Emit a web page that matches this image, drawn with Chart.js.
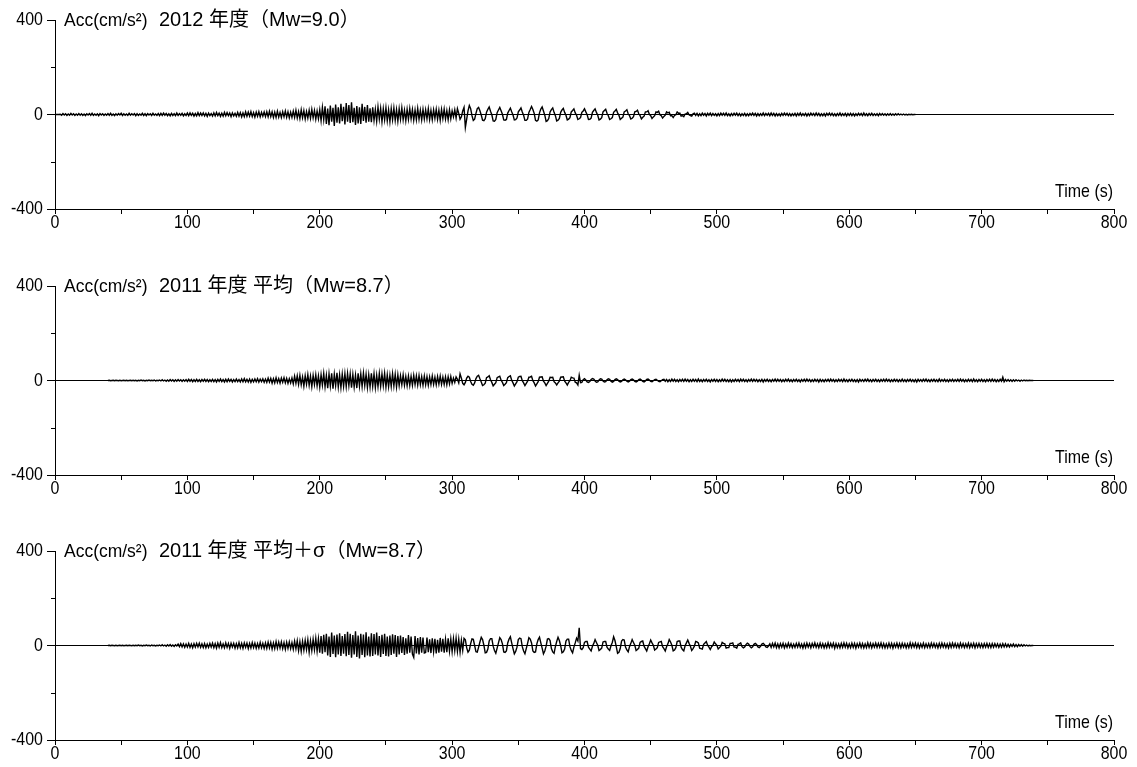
<!DOCTYPE html>
<html>
<head>
<meta charset="utf-8">
<script src="https://cdn.jsdelivr.net/npm/chart.js@4/dist/chart.umd.min.js"></script>
<style>
  body { margin: 0; background: #fff; }
  .panel { position: absolute; left: 0; width: 1137px; height: 240px; }
</style>
</head>
<body>
<div class="panel" style="top:0px"><canvas id="wave1" width="1137" height="240"></canvas></div>
<div class="panel" style="top:266px"><canvas id="wave2" width="1137" height="240"></canvas></div>
<div class="panel" style="top:531px"><canvas id="wave3" width="1137" height="240"></canvas></div>
<script>
// sampling step (s) and start time of each record
const dt = 1;
const titles = ['2012 年度（Mw=9.0）', '2011 年度 平均（Mw=8.7）', '2011 年度 平均＋σ（Mw=8.7）'];
const startTimes = [0, 40, 40];
const yTicks = [-400, 0, 400];
const yMinorTicks = [-200, 200];
const xTickLabels = [0, 100, 200, 300, 400, 500, 600, 700, 800];

// 2012 Mw9.0 acceleration (cm/s2), t = 0..650 s
const acc2012 = [
  0,0,0,0,1,-3,4,-2,3,-4,2,-3,5,-2,3,-4,2,-3,4,-3,
  3,-4,2,-5,3,-2,4,-3,5,-4,2,-3,3,-5,4,-2,3,-4,2,-3,
  4,-3,5,-4,2,-5,3,-3,4,-2,5,-4,3,-3,2,-4,5,-3,3,-2,
  4,-5,3,-4,2,-3,5,-4,3,-5,4,-2,3,-4,5,-3,2,-4,4,-5,
  5,-4,6,-3,4,-5,3,-6,5,-4,3,-5,6,-4,4,-3,5,-6,3,-4,
  6,-5,7,-4,5,-7,4,-6,8,-5,6,-4,7,-6,5,-8,6,-5,4,-7,
  7,-6,9,-5,6,-8,5,-7,9,-6,8,-5,6,-9,7,-6,5,-8,9,-7,
  8,-10,7,-9,11,-8,10,-7,12,-9,8,-11,10,-8,12,-10,9,-7,11,-9,
  12,-10,14,-9,11,-13,10,-12,14,-11,9,-13,12,-10,15,-12,11,-14,10,-12,
  14,-12,18,-15,12,-17,20,-14,16,-19,13,-15,18,-16,22,-14,17,-20,15,-18,
  20,-26,30,-22,35,-40,25,-45,38,-30,28,-48,42,-35,30,-38,45,-28,33,-42,
  48,-30,40,-36,52,-33,28,-44,36,-38,30,-40,45,-27,32,-35,40,-30,26,-33,
  30,-25,22,-28,32,-20,26,-30,24,-22,28,-26,20,-30,25,-22,27,-24,21,-28,
  24,-20,28,-22,18,-26,22,-20,25,-18,21,-24,19,-22,26,-20,18,-23,22,-19,
  20,-18,24,-21,17,-22,20,-16,22,-20,18,-24,21,-17,23,-19,16,-22,20,-18,
  15,-10,20,-15,25,5,-20,-10,15,30,-55,-20,15,38,25,-5,-25,-20,5,25,
  30,16,-2,-24,-26,-18,10,22,32,14,-1,-27,-28,-21,8,19,30,16,1,-23,
  -24,-21,6,17,27,12,-2,-23,-22,-15,11,19,28,11,-3,-25,-25,-19,9,21,
  34,21,5,-25,-28,-23,7,23,32,15,-3,-29,-26,-17,11,21,28,9,-5,-27,
  -24,-17,9,19,26,9,-3,-23,-20,-13,11,17,24,7,-3,-21,-18,-13,9,15,
  24,11,-1,-21,-20,-15,9,17,24,9,-3,-23,-20,-13,11,17,22,5,-5,-21,
  -18,-13,9,15,22,7,-3,-21,-16,-11,11,15,20,3,-5,-19,-16,-9,11,13,
  18,3,-5,-19,-12,-7,11,11,16,1,-5,-17,-10,-5,11,9,14,-1,-5,-15,
  -8,-3,11,7,10,-5,-5,-13,-4,-1,11,5,6,-7,-5,-9,2,3,9,-1,
  -5,-7,3,6,-4,5,-6,3,-5,6,-3,4,-6,5,-3,6,-5,4,-4,3,
  -6,4,-5,6,-3,5,-4,6,-5,3,-6,4,-4,5,-3,6,-5,4,-6,3,
  -4,5,-6,3,-5,4,-3,6,-4,5,-6,4,-5,3,-4,6,-5,4,-3,5,
  -5,6,-4,5,-6,4,-5,3,-6,5,-4,6,-3,5,-5,4,-6,3,-4,5,
  -6,5,-4,6,-5,3,-4,5,-6,4,-5,6,-3,4,-5,6,-4,5,-6,3,
  -5,4,-6,5,-3,6,-4,5,-5,3,-6,4,-4,6,-5,3,-4,5,-6,4,
  -4,5,-5,4,-6,3,-4,5,-3,4,-5,6,-4,3,-5,4,-3,5,-4,3,
  -4,3,-5,4,-3,4,-3,3,-4,3,-3,4,-3,2,-3,3,-2,3,-2,2,
  -2,2,-2,1,-2,1,-1,1,-1,0,0
];

// 2011 mean Mw8.7 acceleration (cm/s2), t = 40..739 s
const acc2011Mean = [
  0,1,-1,0,1,-1,1,0,-1,1,-1,0,1,-1,1,-1,0,1,-1,1,
  -1,1,-2,1,-1,2,-1,1,-2,1,-1,2,-1,1,-1,2,-2,1,-1,2,
  -2,3,-2,2,-3,2,-3,4,-2,3,-4,3,-3,4,-2,3,-4,3,-3,4,
  -4,5,-3,4,-5,3,-4,5,-4,3,-5,4,-3,5,-4,4,-5,3,-4,5,
  -5,4,-6,5,-4,6,-5,4,-6,5,-5,6,-4,5,-6,4,-5,6,-5,4,
  -6,7,-5,8,-6,5,-7,6,-8,5,-6,7,-5,8,-7,6,-5,7,-8,6,
  -8,10,-7,9,-11,8,-10,12,-9,8,-11,10,-8,12,-10,9,-12,8,-10,11,
  -14,18,-12,20,-16,22,-18,15,-24,20,-16,25,-20,18,-26,22,-17,24,-22,19,
  -28,24,-20,30,-26,22,-32,28,-24,30,-35,26,-22,32,-28,24,-30,27,-25,29,
  -26,30,-22,28,-30,25,-28,22,-32,30,-24,28,-26,31,-22,26,-29,24,-27,30,
  -25,28,-30,22,-26,29,-24,27,-22,30,-28,24,-26,22,-25,28,-23,26,-27,24,
  -22,20,-18,24,-20,17,-22,19,-21,18,-20,22,-17,20,-19,21,-18,16,-20,19,
  -18,16,-20,15,-17,19,-16,14,-18,17,-15,19,-16,14,-17,15,-18,16,-14,17,
  -12,10,-8,15,5,-10,28,10,-12,-18,-8,10,18,14,-4,-16,-20,-10,8,18,
  22,7,-6,-21,-18,-11,12,15,20,3,-8,-23,-16,-9,12,15,18,1,-8,-21,
  -16,-9,12,17,20,1,-10,-23,-14,-5,14,17,18,-1,-10,-21,-12,-3,14,15,
  18,-1,-10,-23,-14,-5,14,15,16,-3,-10,-21,-12,-3,14,13,14,-5,-10,-19,
  -10,-3,14,15,16,-3,-10,-19,-8,-1,14,11,10,-7,-10,-19,22,-9,-8,3,
  8,2,-6,-8,-4,4,8,6,-2,-7,-6,2,7,6,-2,-6,-5,3,7,5,
  -3,-7,-4,4,7,4,-3,-6,-4,3,6,3,-3,-6,-3,4,6,3,-4,-6,
  -3,4,6,2,-4,-6,-2,5,6,2,-4,-5,-1,4,5,1,-4,-5,-1,4,
  5,-3,4,-5,3,-4,6,-3,5,-4,3,-5,4,-3,5,-4,6,-3,4,-5,
  3,-4,5,-3,4,-5,6,-4,3,-5,4,-3,5,-4,3,-6,4,-3,5,-4,
  4,-5,3,-4,6,-3,5,-4,3,-5,4,-6,3,-4,5,-3,4,-5,6,-3,
  5,-4,3,-5,4,-3,6,-4,5,-3,4,-5,3,-4,5,-6,4,-3,5,-4,
  3,-5,4,-3,6,-4,5,-3,4,-5,3,-4,5,-3,6,-4,3,-5,4,-3,
  5,-4,3,-6,4,-3,5,-4,6,-3,4,-5,3,-4,5,-3,4,-6,5,-4,
  3,-5,4,-3,5,-4,6,-3,4,-5,3,-4,5,-3,4,-5,6,-4,3,-5,
  4,-3,5,-4,3,-5,4,-6,5,-3,4,-4,5,-3,6,-4,3,-5,4,-3,
  5,-4,3,-5,4,-3,5,-4,6,-3,4,-5,3,-4,5,-3,4,-5,3,-4,
  6,-4,3,-5,4,-3,5,-4,3,-5,4,-6,5,-3,4,-4,5,-3,6,-4,
  3,-5,4,-3,5,-4,3,-5,6,-4,4,-3,5,-4,3,-5,4,-3,5,-4,
  4,-3,5,-4,6,-3,4,-5,3,-4,5,-3,4,-5,6,-4,3,-5,4,-3,
  5,-4,3,-5,4,-3,5,-4,6,-3,4,-5,3,-4,5,-3,14,-5,4,-3,
  4,-3,3,-4,3,-3,3,-2,2,-3,2,-2,2,-1,1,-1,1,0,0,0
];

// 2011 mean + sigma Mw8.7 acceleration (cm/s2), t = 40..739 s
const acc2011Sigma = [
  0,1,-1,1,0,-1,1,-1,0,1,-1,1,-1,0,1,-1,1,0,-1,1,
  -1,1,-1,2,-1,1,-2,1,-1,2,-1,1,-2,2,-1,1,-2,1,-1,2,
  -2,3,-2,2,-3,3,-2,4,-3,2,-4,3,-2,6,-5,8,-6,7,-8,6,
  -7,9,-8,6,-10,8,-7,9,-6,10,-8,7,-9,8,-10,6,-8,9,-7,10,
  -9,8,-11,10,-8,12,-9,7,-10,11,-8,9,-12,10,-7,9,-11,8,-10,12,
  -10,9,-12,11,-8,10,-13,9,-11,12,-9,10,-12,8,-11,13,-10,9,-12,11,
  -12,14,-10,13,-15,11,-13,16,-12,14,-11,15,-13,12,-16,14,-12,15,-13,12,
  -16,18,-14,20,-22,16,-25,18,-20,22,-17,24,-28,20,-22,26,-18,30,-24,28,
  -30,40,-35,45,-28,50,-42,38,-48,55,-36,42,-50,46,-38,52,-44,40,-35,48,
  -45,58,-40,50,-52,44,-38,60,-48,42,-55,50,-40,46,-50,56,-42,38,-46,52,
  -44,48,-38,55,-42,40,-48,45,-36,50,-44,38,-46,42,-40,47,-35,44,-48,40,
  -38,42,-32,36,-40,30,-35,44,-30,38,-36,-50,40,-34,32,-38,36,-30,34,-32,
  -30,34,-28,26,-32,30,-26,28,-34,24,-30,32,-26,28,-30,26,-28,30,-24,27,
  -26,28,-22,30,-24,26,-28,22,-20,30,24,-10,-28,-20,8,28,26,0,-26,-28,
  -7,15,35,25,1,-31,-29,-15,19,29,29,-3,-21,-33,-11,11,33,25,7,-27,
  -29,-23,11,27,37,11,-13,-35,-25,-7,25,31,29,-5,-23,-35,-13,9,33,27,
  11,-23,-29,-27,7,25,35,11,-11,-35,-23,-3,27,29,21,-13,-27,-33,-5,17,
  35,21,-1,-31,-27,-15,19,27,27,-5,-21,-31,-7,11,31,19,75,-13,-17,-9,
  13,17,17,-7,-15,-23,-3,9,25,13,1,-21,-17,-11,15,17,17,-7,-15,-21,
  -1,13,37,21,-5,-33,-29,-13,19,25,23,-7,-19,-27,-5,9,25,13,1,-21,
  -17,-11,13,17,19,-3,-13,-23,-5,7,23,11,1,-19,-15,-9,13,15,17,-5,
  -13,-23,-5,7,25,15,1,-23,-19,-9,17,19,19,-7,-17,-23,-1,11,23,9,
  -3,-21,-13,-3,17,15,11,-11,-13,-15,5,11,17,1,-7,-17,-5,1,15,7,
  1,-15,-9,-3,13,9,7,-11,-9,-9,9,9,11,-7,-7,-11,5,7,11,-5,
  -10,-6,4,10,6,-4,-10,-5,5,9,4,-6,-9,-3,6,9,3,-6,-8,-2,
  7,-8,9,-6,10,-9,7,-10,8,-7,9,-10,6,-8,10,-7,8,-9,6,-8,
  9,-7,10,-8,6,-11,8,-9,10,-7,8,-10,9,-6,11,-8,7,-9,10,-8,
  8,-10,7,-9,11,-8,9,-7,10,-12,8,-9,7,-10,9,-8,11,-7,9,-10,
  7,-9,10,-8,9,-11,8,-7,10,-9,8,-10,7,-9,11,-8,9,-10,8,-7,
  10,-8,9,-7,11,-9,8,-10,7,-9,10,-8,9,-11,8,-7,10,-9,8,-10,
  9,-7,8,-10,7,-9,11,-8,9,-7,10,-9,8,-10,7,-8,10,-9,7,-8,
  8,-9,10,-7,9,-8,7,-10,9,-8,10,-7,8,-9,7,-10,9,-8,10,-7,
  9,-8,7,-9,10,-7,8,-9,7,-8,10,-9,8,-7,9,-10,8,-7,9,-8,
  7,-9,8,-7,9,-8,7,-9,8,-7,8,-6,7,-8,6,-7,8,-6,7,-6,
  5,-6,5,-4,6,-5,4,-5,4,-3,4,-3,3,-2,2,-2,1,-1,0,0
];

const records = [acc2012, acc2011Mean, acc2011Sigma];

const labelFont = '"Liberation Sans", Arial, sans-serif';
const titleFont = '"Liberation Sans", "Noto Sans CJK JP", sans-serif';

// draw text squeezed horizontally (narrow face look)
function narrowText(ctx, str, px, py, align, squeeze) {
  ctx.save();
  ctx.translate(px, py);
  ctx.scale(squeeze, 1);
  ctx.textAlign = align;
  ctx.fillText(str, 0, 0);
  ctx.restore();
}

// tick labels, minor ticks, unit, title and time label
const panelText = {
  id: 'panelText',
  afterDraw(chart, args, options) {
    const { ctx, chartArea: { left, right, top, bottom }, scales: { x, y } } = chart;
    ctx.save();
    ctx.fillStyle = '#000';
    ctx.strokeStyle = '#000';
    ctx.lineWidth = 1;
    ctx.textBaseline = 'middle';

    ctx.font = '19px ' + labelFont;
    yTicks.forEach(v => narrowText(ctx, String(v), left - 12, y.getPixelForValue(v), 'right', 0.84));
    xTickLabels.forEach(v => narrowText(ctx, String(v), x.getPixelForValue(v), bottom + 14, 'center', 0.84));
    narrowText(ctx, 'Time (s)', right - 1, bottom - 17, 'right', 0.84);
    narrowText(ctx, 'Acc(cm/s²)', left + 9, top + 1, 'left', 0.92);

    yMinorTicks.forEach(v => {
      const py = Math.round(y.getPixelForValue(v)) + 0.5;
      ctx.beginPath();
      ctx.moveTo(left - 4, py);
      ctx.lineTo(left, py);
      ctx.stroke();
    });

    ctx.font = '20px ' + titleFont;
    ctx.textAlign = 'left';
    ctx.fillText(options.title, left + 104, top);
    ctx.restore();
  }
};

function makeChart(id, values, t0, title) {
  const points = values.map((v, i) => ({ x: t0 + i * dt, y: v }));
  return new Chart(document.getElementById(id), {
    type: 'line',
    data: {
      datasets: [{
        data: points,
        borderColor: '#000',
        borderWidth: 1.4,
        pointRadius: 0,
        tension: 0,
        fill: false
      }]
    },
    options: {
      responsive: false,
      animation: false,
      events: [],
      layout: { padding: { top: 20, right: 23, bottom: 0, left: 0 } },
      plugins: {
        legend: { display: false },
        tooltip: { enabled: false },
        panelText: { title: title }
      },
      scales: {
        x: {
          type: 'linear',
          min: 0,
          max: 800,
          afterFit(scale) { scale.height = 31; },
          border: { display: true, color: '#000', width: 1 },
          grid: { drawOnChartArea: false, tickLength: 5, tickColor: '#000' },
          ticks: {
            stepSize: 50,
            autoSkip: false,
            maxRotation: 0,
            color: 'rgba(0,0,0,0)',
            callback: v => xTickLabels.includes(v) ? String(v) : ''
          }
        },
        y: {
          min: -400,
          max: 400,
          afterFit(scale) { scale.width = 55; },
          border: { display: true, color: '#000', width: 1 },
          grid: {
            tickLength: 8,
            tickColor: ctx => ctx.tick && yTicks.includes(ctx.tick.value) ? '#000' : 'rgba(0,0,0,0)',
            color: ctx => ctx.tick && ctx.tick.value === 0 ? '#000' : 'rgba(0,0,0,0)'
          },
          ticks: {
            stepSize: 200,
            color: 'rgba(0,0,0,0)',
            callback: v => yTicks.includes(v) ? String(v) : ''
          }
        }
      }
    },
    plugins: [panelText]
  });
}

records.forEach((rec, k) => makeChart('wave' + (k + 1), rec, startTimes[k], titles[k]));
</script>
</body>
</html>
